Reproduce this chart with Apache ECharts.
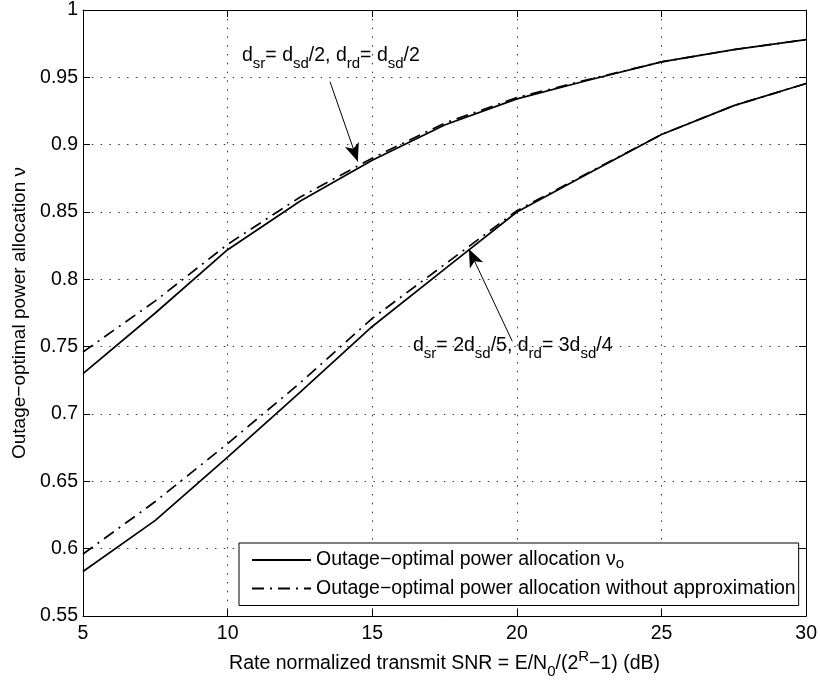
<!DOCTYPE html>
<html>
<head>
<meta charset="utf-8">
<script src="https://cdn.jsdelivr.net/npm/echarts@6/dist/echarts.min.js"></script>
<style>
  html, body { margin: 0; padding: 0; background: #fff; }
  #chart { width: 820px; height: 684px; }
</style>
</head>
<body>
<div id="chart"></div>
<script>
// rate normalized SNR (dB)
const snr = [5, 7.5, 10, 12.5, 15, 17.5, 20, 22.5, 25, 27.5, 30];
// d_sr = d_sd/2, d_rd = d_sd/2
const upperApprox = [0.730, 0.775, 0.822, 0.858, 0.8885, 0.9146, 0.934, 0.948, 0.9615, 0.9706, 0.978];
const upperExact  = [0.746, 0.784, 0.826, 0.861, 0.890, 0.916, 0.935, 0.9485, 0.9615, 0.9706, 0.978];
// d_sr = 2d_sd/5, d_rd = 3d_sd/4
const lowerApprox = [0.583, 0.621, 0.668, 0.716, 0.765, 0.8076, 0.850, 0.879, 0.9076, 0.929, 0.9454];
const lowerExact  = [0.596, 0.635, 0.678, 0.723, 0.771, 0.811, 0.851, 0.8795, 0.9076, 0.929, 0.9454];
const xTicks = [5, 10, 15, 20, 25, 30];
const yTicks = [0.55, 0.6, 0.65, 0.7, 0.75, 0.8, 0.85, 0.9, 0.95, 1];

const FONT = '"Liberation Sans", Arial, Helvetica, sans-serif';
const FS = 19.5;
const SUB = 15;
const solidName = 'approx';
const exactName = 'exact';

const chartDom = document.getElementById('chart');
const myChart = echarts.init(chartDom);

function pairs(xs, ys) {
    return xs.map((x, i) => [x, ys[i]]);
}

const gridStyle = {show: true, lineStyle: {color: '#333', width: 1, type: [1.5, 7.3]}};
const solidLine = {color: '#000', width: 1.7, type: 'solid'};
const dashDot = {color: '#000', width: 1.7, type: [12, 6, 2, 6]};

const richBase = {
    b: {fontSize: FS, fontFamily: FONT, color: '#000', lineHeight: 30},
    s: {fontSize: SUB, fontFamily: FONT, color: '#000', lineHeight: 10, verticalAlign: 'bottom'},
    p: {fontSize: SUB, fontFamily: FONT, color: '#000', lineHeight: 10, verticalAlign: 'top'}
};

function arrow(from, to) {
    return [
        {coord: from, symbol: 'none'},
        {coord: to, symbol: 'arrow', symbolSize: [11, 18]}
    ];
}

let option = {
    animation: false,
    backgroundColor: '#fff',
    grid: {left: 83, right: 12, top: 8, bottom: 68, show: false},
    legend: {
        left: 239,
        top: 543,
        orient: 'vertical',
        data: [solidName, exactName],
        backgroundColor: '#fff',
        borderColor: '#000',
        borderWidth: 1,
        borderRadius: 0,
        padding: [7, 3, 7, 12],
        itemWidth: 59,
        itemHeight: 14,
        itemGap: 7,
        itemStyle: {opacity: 0},
        textStyle: {
            fontSize: FS,
            fontFamily: FONT,
            color: '#000',
            rich: {
                b: {fontSize: FS, fontFamily: FONT, color: '#000', lineHeight: 23},
                s: {fontSize: SUB, fontFamily: FONT, color: '#000', lineHeight: 6, verticalAlign: 'bottom'}
            }
        },
        formatter: function (name) {
            if (name === solidName) return '{b|Outage\u2212optimal power allocation \u03bd}{s|o}';
            return '{b|Outage\u2212optimal power allocation without approximation}';
        }
    },
    xAxis: [{
        type: 'value',
        min: 5,
        max: 30,
        interval: 5,
        position: 'bottom',
        axisLine: {show: true, onZero: false, lineStyle: {color: '#000', width: 1}},
        axisTick: {show: true, inside: true, length: 7, lineStyle: {color: '#000'}},
        axisLabel: {fontSize: FS, fontFamily: FONT, color: '#000', margin: 8},
        splitLine: gridStyle,
        name: '{b|Rate normalized transmit SNR = E/N}{s|0}{b|/(2}{p|R}{b|\u22121) (dB)}',
        nameLocation: 'middle',
        nameGap: 31,
        nameTextStyle: {rich: richBase}
    }, {
        type: 'value',
        min: 5,
        max: 30,
        interval: 5,
        position: 'top',
        axisLine: {show: true, onZero: false, lineStyle: {color: '#000', width: 1}},
        axisTick: {show: true, inside: true, length: 7, lineStyle: {color: '#000'}},
        axisLabel: {show: false},
        splitLine: {show: false}
    }],
    yAxis: [{
        type: 'value',
        min: 0.55,
        max: 1,
        interval: 0.05,
        position: 'left',
        axisLine: {show: true, onZero: false, lineStyle: {color: '#000', width: 1}},
        axisTick: {show: true, inside: true, length: 7, lineStyle: {color: '#000'}},
        axisLabel: {fontSize: FS, fontFamily: FONT, color: '#000', margin: 5,
            formatter: v => String(+v.toFixed(2))},
        splitLine: gridStyle,
        name: 'Outage\u2212optimal power allocation \u03bd',
        nameLocation: 'middle',
        nameRotate: 90,
        nameGap: 47,
        nameTextStyle: {fontSize: FS - 0.5, fontFamily: FONT, color: '#000'}
    }, {
        type: 'value',
        min: 0.55,
        max: 1,
        interval: 0.05,
        position: 'right',
        axisLine: {show: true, onZero: false, lineStyle: {color: '#000', width: 1}},
        axisTick: {show: true, inside: true, length: 7, lineStyle: {color: '#000'}},
        axisLabel: {show: false},
        splitLine: {show: false}
    }],
    series: [
        {
            name: solidName, type: 'line', data: pairs(snr, upperApprox),
            showSymbol: false, symbol: 'none', lineStyle: solidLine, itemStyle: {color: '#000'}, z: 3,
            markLine: {
                silent: true,
                label: {show: false},
                lineStyle: {color: '#000', width: 1, type: 'solid'},
                data: [
                    arrow([13.54, 0.9467], [14.5, 0.8875]),
                    arrow([19.84, 0.754], [18.34, 0.8225])
                ]
            }
        },
        {
            name: solidName, type: 'line', data: pairs(snr, lowerApprox),
            showSymbol: false, symbol: 'none', lineStyle: solidLine, itemStyle: {color: '#000'}, z: 3
        },
        {
            name: exactName, type: 'line', data: pairs(snr, upperExact),
            showSymbol: false, symbol: 'none', lineStyle: dashDot, itemStyle: {color: '#000'}, z: 2
        },
        {
            name: exactName, type: 'line', data: pairs(snr, lowerExact),
            showSymbol: false, symbol: 'none', lineStyle: dashDot, itemStyle: {color: '#000'}, z: 2
        }
    ],
    graphic: [
        {
            type: 'text', left: 242, top: 46, z: 10,
            style: {
                text: '{b|d}{s|sr}{b|= d}{s|sd}{b|/2, d}{s|rd}{b|= d}{s|sd}{b|/2}',
                rich: richBase
            }
        },
        {
            type: 'text', left: 413, top: 336, z: 10,
            style: {
                text: '{b|d}{s|sr}{b|= 2d}{s|sd}{b|/5, d}{s|rd}{b|= 3d}{s|sd}{b|/4}',
                rich: richBase
            }
        }
    ]
};

option && myChart.setOption(option);
</script>
</body>
</html>
